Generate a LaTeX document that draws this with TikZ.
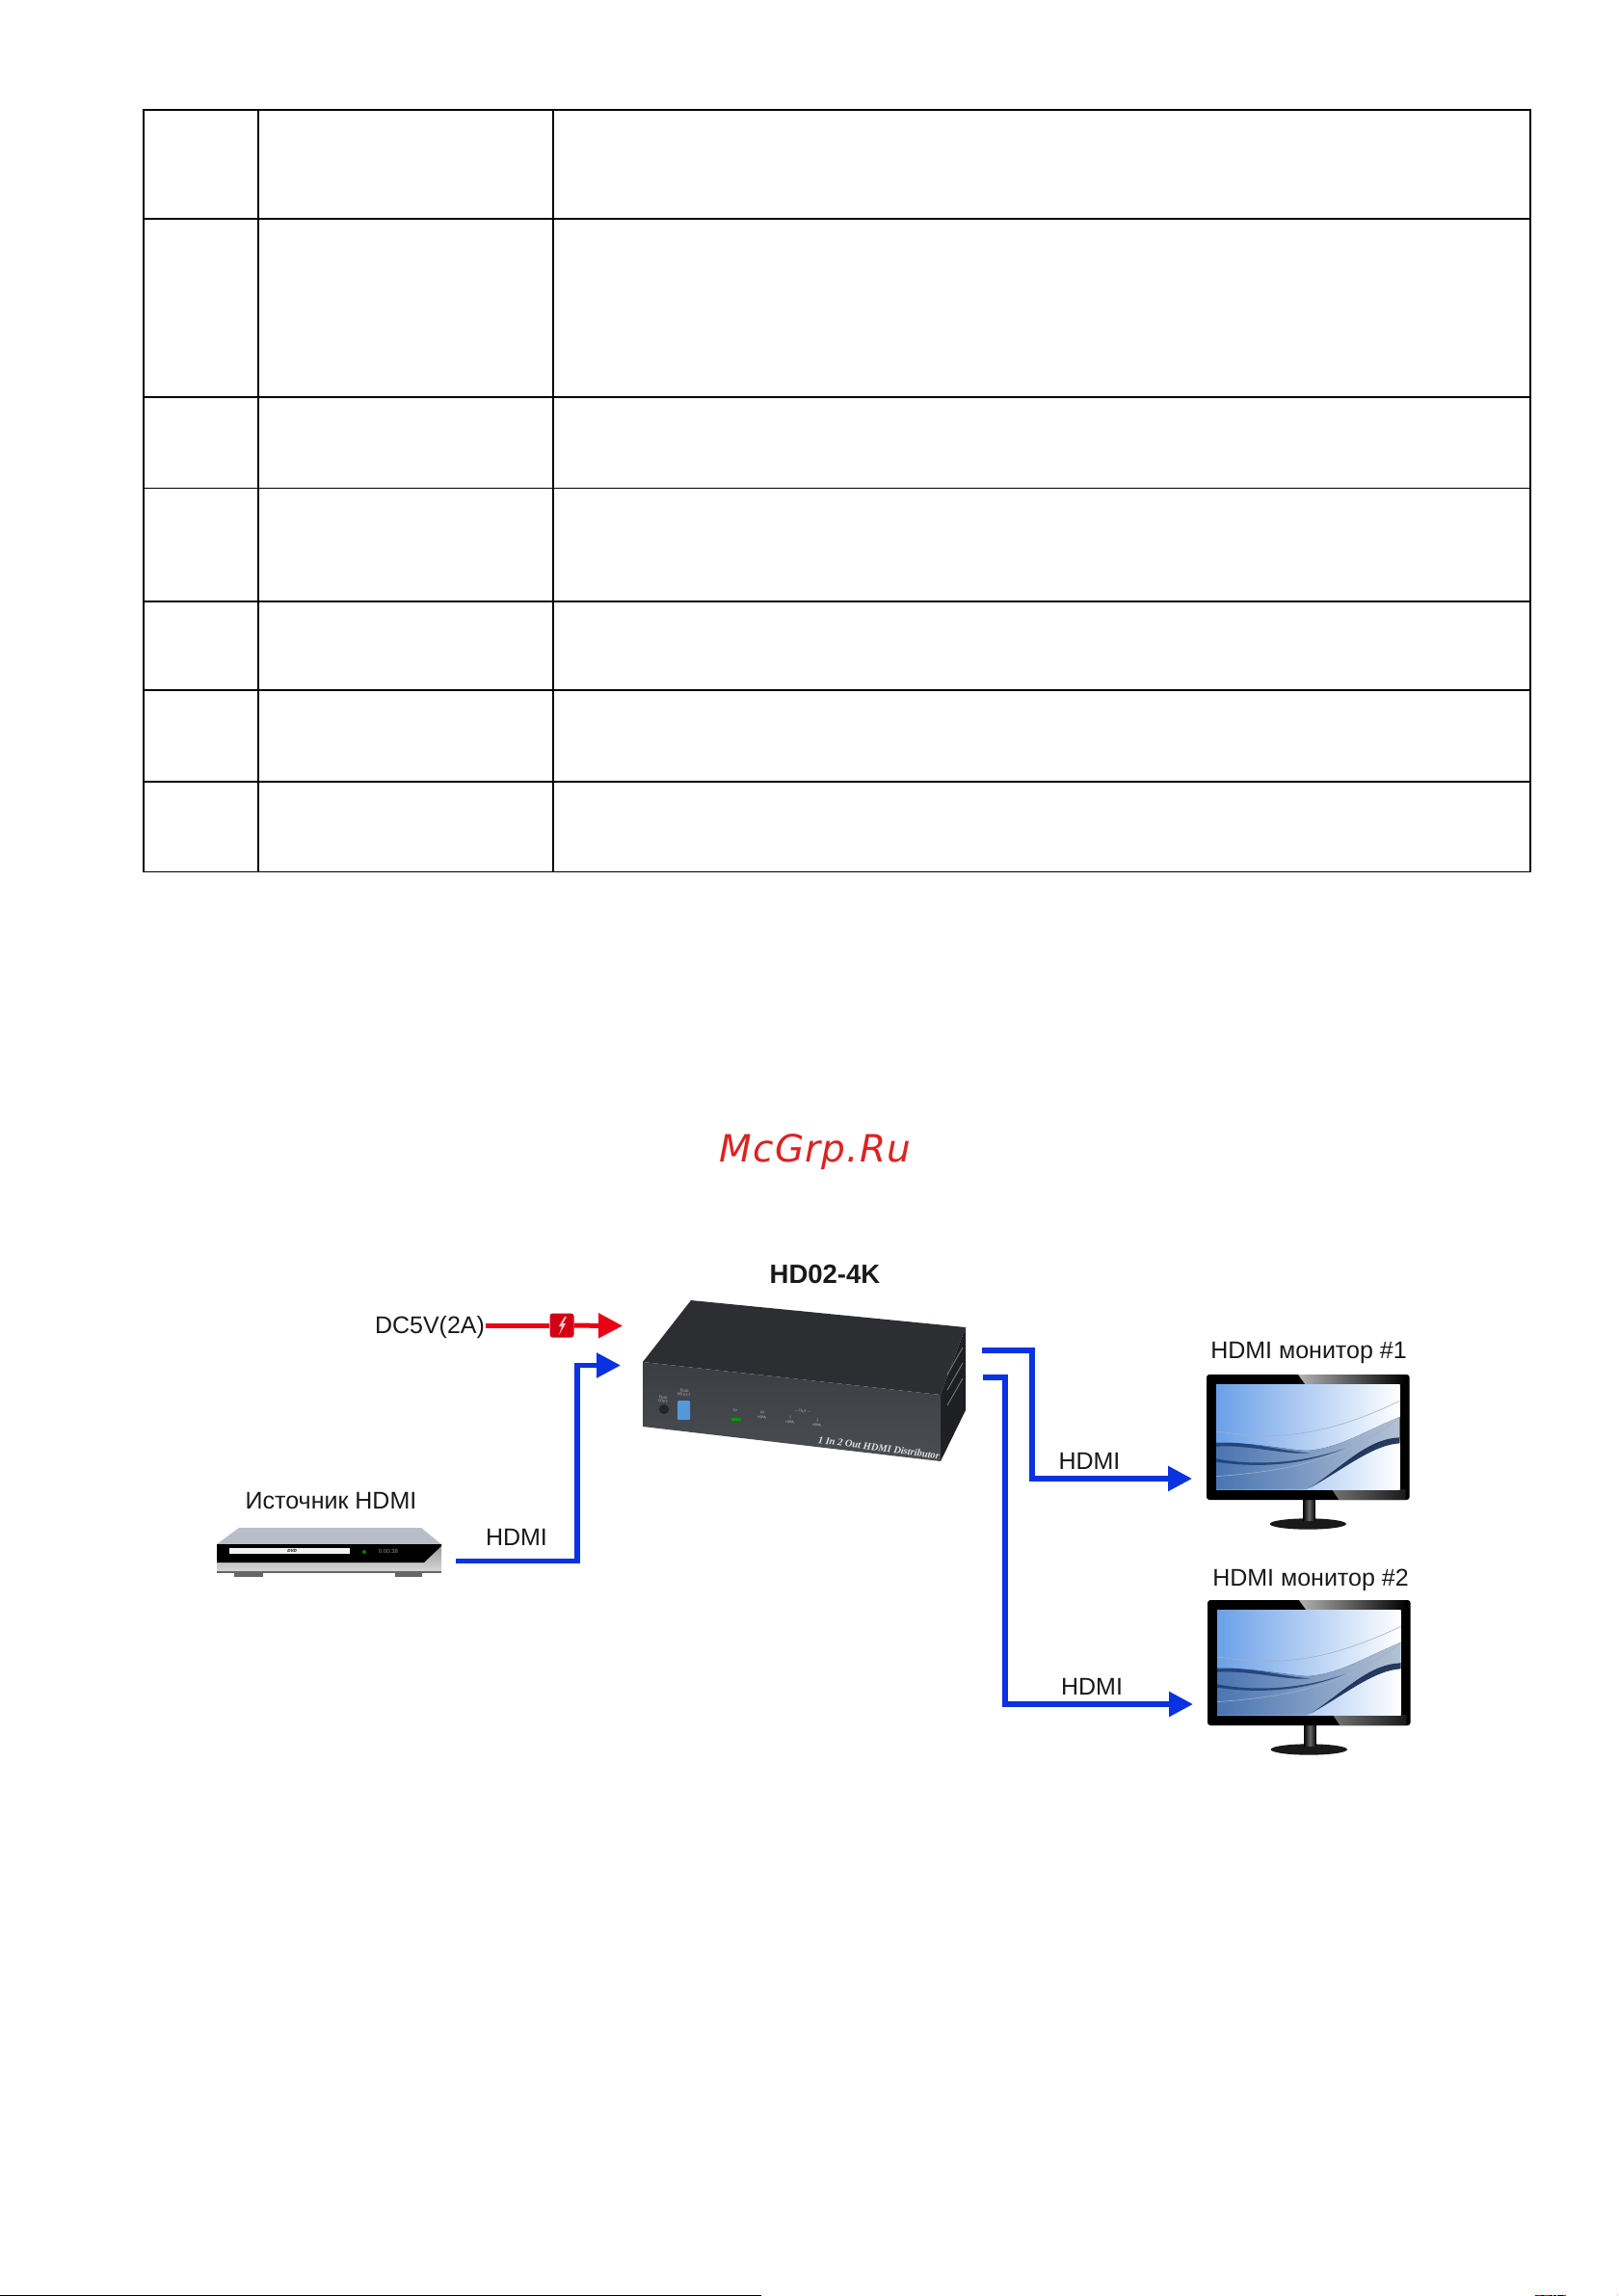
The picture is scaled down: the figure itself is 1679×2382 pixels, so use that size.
\documentclass[tikz,border=0pt]{standalone}
\usepackage{fontspec}
\setmainfont{Liberation Sans}
\newfontfamily\plaquefont{Liberation Serif}
\newfontfamily\markfont[LetterSpace=3]{DejaVu Sans}
\usetikzlibrary{arrows.meta}
\definecolor{hdmiblue}{RGB}{10,50,225}
\definecolor{powerred}{RGB}{232,0,20}
\definecolor{markred}{RGB}{221,34,34}
\definecolor{screenblue}{RGB}{106,160,232}
\definecolor{waveblue}{RGB}{84,134,204}
\definecolor{wavepale}{RGB}{206,222,243}
\definecolor{wavedark}{RGB}{24,56,112}
\definecolor{boxtop}{RGB}{44,46,50}
\definecolor{boxfront}{RGB}{74,77,82}
\definecolor{boxside}{RGB}{30,31,34}
\definecolor{silver}{RGB}{186,190,200}
\tikzset{
  tableline/.style={line width=2.6pt},
  tablethin/.style={line width=1.2pt},
  label/.style={anchor=base,inner sep=1pt,font=\fontsize{25}{28}\selectfont,text=black!90},
  tiny/.style={inner sep=0pt,font=\fontsize{3.6}{4}\selectfont,text=black!25,align=center,rotate=-6},
  hdmiwire/.style={draw=hdmiblue,line width=5.5pt,-{Triangle[length=25pt,width=25pt]}},
  powerwire/.style={draw=powerred,line width=5pt},
  monitor/.pic={
    \begin{scope}[shift={(-20,-18)}]
    %Shape: Stand
    \fill [black!90] (336,483) ellipse [x radius=119,y radius=17];
    \shade [left color=black,right color=black,middle color=black!60] (320,400) rectangle (358,472);
    %Shape: Frame
    \fill [black,rounded corners=3pt] (20,18) rectangle (652,408);
    \shade [left color=black!30,right color=black] (305,18) -- (640,18) -- (640,50) -- (328,50) -- cycle;
    \shade [left color=black!55,right color=black!90] (410,375) -- (640,375) -- (640,408) -- (432,408) -- cycle;
    %Shape: Screen
    \begin{scope}
    \clip (50,50) rectangle (622,375);
    \shade [shading angle=115,left color=screenblue,right color=white] (50,50) rectangle (622,375);
    \fill [left color=waveblue,right color=wavepale,opacity=0.85] (50,235) .. controls (150,225) and (250,250) .. (330,255) .. controls (430,250) and (520,190) .. (622,150) -- (622,215) .. controls (520,225) and (440,310) .. (330,375) -- (50,375) -- cycle;
    \fill [wavedark,opacity=0.8] (50,230) .. controls (150,225) and (250,255) .. (340,262) .. controls (270,270) and (150,235) .. (50,242) -- cycle;
    \fill [wavedark,opacity=0.8] (50,280) .. controls (150,300) and (300,300) .. (450,248) .. controls (300,310) and (150,305) .. (50,290) -- cycle;
    \fill [wavedark!70!black,opacity=0.9] (340,372) .. controls (450,300) and (520,218) .. (622,214) -- (622,232) .. controls (540,236) and (450,310) .. cycle;
    \draw [wavedark!40,line width=0.6pt] (50,195) .. controls (200,215) and (350,230) .. (622,100);
    \draw [wavedark!40,line width=0.6pt] (50,335) .. controls (250,320) and (450,290) .. (622,150);
    \end{scope}
    \end{scope}
    \coordinate (-in) at (-45,324);
  }
}
\begin{document}
\begin{tikzpicture}[x=1pt,y=-1pt]
\useasboundingbox (0,0) rectangle (1679,2382);

%Shape: Table
\draw [tablethin] (149,114) rectangle (1588,904.5);
\foreach \colx in {268,574} {\draw [tablethin] (\colx,114) -- (\colx,904.5);}
\foreach \rowy in {114,227,412,624,716,811} {\draw [tableline] (149,\rowy) -- (1588,\rowy);}
\draw [line width=0.8pt] (149,506) -- (1588,506);

% Text Node
\node (mark) at (846,1195) [markred,font=\markfont\itshape\fontsize{39}{44}\selectfont] {McGrp.Ru};
\node (model) at (856,1331) [label,font=\bfseries\fontsize{27.5}{30}\selectfont] {HD02-4K};
\node (dc) at (446,1383) [label] {DC5V(2A)};
\node (sourcename) at (343.5,1565) [label] {Источник HDMI};
\node (wirein) at (536,1603) [label] {HDMI};
\node (wireone) at (1130.5,1524) [label] {HDMI};
\node (wiretwo) at (1133,1758) [label] {HDMI};
\node (monname1) at (1358,1409) [label] {HDMI монитор \#1};
\node (monname2) at (1360,1645) [label] {HDMI монитор \#2};

%Shape: Distributor
\fill [boxtop] (717,1349) -- (1002,1377) -- (976,1447) -- (667,1413) -- cycle;
\fill [boxside] (1002,1377) -- (1002,1463) -- (976,1516) -- (976,1447) -- cycle;
\foreach \venty in {1412,1428,1444} {\draw [black!55,line width=1pt] (983,\venty+14) -- (999,\venty-14);}
\shade [top color=boxfront!80!black,bottom color=boxfront] (667,1413) -- (976,1447) -- (976,1516) -- (667,1480) -- cycle;
\fill [black!85] (689,1462) circle [radius=5];
\fill [cyan!60!blue!70!white,rounded corners=1pt] (703,1453) rectangle (716,1473);
\fill [green!60!black] (759,1471) rectangle (769,1474);
\node (copytext) at (688,1452) [tiny] {EDID\\COPY};
\node (selecttext) at (710,1445) [tiny] {EDID\\SELECT};
\node (powertext) at (763,1463) [tiny] {5V};
\node (intext) at (791,1468) [tiny] {IN\\[1pt]HDMI};
\node (outtext) at (833,1464) [tiny] {--- OUT ---};
\node (onetext) at (820,1473) [tiny] {1\\[1pt]HDMI};
\node (twotext) at (848,1476) [tiny] {2\\[1pt]HDMI};
\node (plaque) at (912,1502) [rotate=-7.5,inner sep=0pt,text=black!12,font=\plaquefont\bfseries\itshape\fontsize{10.5}{12}\selectfont] {1 In 2 Out HDMI Distributor};

%Shape: Player
\node (player) at (341.5,1619.5) [minimum width=233pt,minimum height=35pt,inner sep=0pt] {};
\fill [silver] (248,1585) -- (437,1585) -- (458,1602) -- (225,1602) -- cycle;
\fill [black!60] (243,1630) rectangle (273,1636);
\fill [black!60] (410,1630) rectangle (438,1636);
\shade [top color=black!40,bottom color=black!15] (225,1602) rectangle (458,1631);
\fill [black] (225,1602) -- (458,1602) -- (458,1604) -- (440,1621) -- (225,1621) -- cycle;
\fill [black!5] (238,1606) rectangle (363,1612);
\node (disctext) at (303,1609) [inner sep=0pt,font=\bfseries\itshape\fontsize{4.5}{5}\selectfont] {DVD};
\fill [green!50!black] (378,1610) circle [radius=2];
\node (clocktext) at (403,1609) [inner sep=0pt,text=black!45,font=\fontsize{6}{7}\selectfont] {0:00:38};
\fill [black!60] (225,1630) rectangle (458,1632);

%Shape: Monitors
\pic (mon1) [scale=1/3] at (1252,1426) {monitor};
\pic (mon2) [scale=1/3] at (1253,1660) {monitor};

%Straight Lines
\coordinate (powerin) at (646,1375.5);
\node (bolt) at (583,1375) [fill=powerred!90!black,rounded corners=3pt,minimum size=25pt,inner sep=0pt] {};
\fill [red!20] (586,1366) -- (580,1376) -- (583,1376) -- (580,1385) -- (587,1373) -- (584,1373) -- (588,1366) -- cycle;
\draw [powerwire] (dc.east |- bolt) -- (bolt);
\draw [powerwire,-{Triangle[length=25pt,width=25pt]}] (bolt) -- (powerin);

\coordinate (hdmiin) at (644,1416.5);
\coordinate (inbend) at (599,1416.5);
\coordinate (outone) at (1019,1401);
\coordinate (outtwo) at (1020,1429);
\draw [hdmiwire,shorten <=15pt] (player.east) -| (inbend) -- (hdmiin);
\draw [hdmiwire] (outone) -- ++(52,0) |- (mon1-in);
\draw [hdmiwire] (outtwo) -- ++(23,0) |- (mon2-in);

%Shape: Page edge
\fill [black] (0,2380.5) rectangle (790,2382);
\foreach \speckx/\speckcol in {1593/blue,1596/red,1599/black,1602/green!50!black,1605/red,1608/black,1612/black,1616/blue!70!black,1619/black,1622/red} {\fill [\speckcol] (\speckx,2380.5) rectangle ++(2.5,1.5);}
\fill [yellow] (1677.5,2380) rectangle (1679,2382);

\end{tikzpicture}
\end{document}
